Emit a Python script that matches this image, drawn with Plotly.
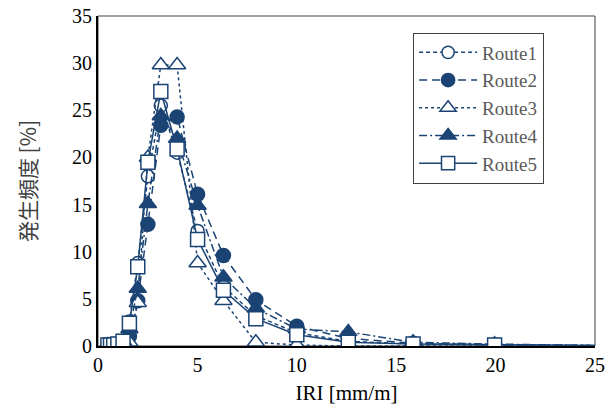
import plotly.graph_objects as go

# IRI bin centres (log-spaced) [mm/m]
iri = [0.5, 0.63, 0.79, 1.0, 1.26, 1.58, 2.0, 2.51, 3.16, 3.98, 5.01, 6.31, 7.94, 10.0, 12.59, 15.85, 19.95, 25.12]

route1 = [0.1, 0.1, 0.1, 0.2, 0.5, 2.6, 8.8, 18.0, 25.5, 20.5, 12.2, 6.3, 3.2, 1.4, 0.5, 0.2, 0.1, 0.05]
route2 = [0.1, 0.1, 0.1, 0.2, 0.3, 1.0, 4.8, 12.9, 23.4, 24.3, 16.1, 9.6, 4.9, 2.1, 0.8, 0.3, 0.1, 0.05]
route3 = [0.0, 0.0, 0.0, 0.1, 0.2, 0.4, 4.6, 20.0, 29.8, 29.8, 8.8, 4.8, 0.4, 0.1, 0.0, 0.0, 0.0, 0.0]
route4 = [0.1, 0.1, 0.1, 0.2, 0.5, 1.8, 6.1, 15.1, 24.4, 22.0, 14.9, 7.3, 4.0, 1.8, 1.5, 0.4, 0.2, 0.05]
route5 = [0.1, 0.1, 0.1, 0.2, 0.5, 2.4, 8.4, 19.5, 27.0, 20.9, 11.3, 5.9, 2.9, 1.2, 0.4, 0.2, 0.1, 0.05]

names = ["Route1", "Route2", "Route3", "Route4", "Route5"]
x_ticks = [0, 5, 10, 15, 20, 25]
y_ticks = [0, 5, 10, 15, 20, 25, 30, 35]

BLUE = "#1B4474"
series = [
    (route1, "circle-open", "4px,3px", 13),
    (route2, "circle", "8px,5px", 14),
    (route3, "triangle-up-open", "dot", 15),
    (route4, "triangle-up", "8px,3px,2px,3px", 15),
    (route5, "square-open", "solid", 14),
]

fig = go.Figure()
for name, (vals, sym, dash, msize) in zip(names, series):
    filled = not sym.endswith("open")
    # last point lies just past the axis end: line only, marker hidden
    sizes = [msize] * (len(iri) - 1) + [0]
    fig.add_trace(go.Scatter(
        x=iri, y=vals, name=name, mode="lines+markers",
        line=dict(color=BLUE, width=1.5, dash=dash),
        marker=dict(symbol=sym.replace("-open", ""), size=sizes,
                    color=BLUE if filled else "white", opacity=1,
                    line=dict(color=BLUE, width=1.5)),
    ))

font_family = "Liberation Serif, Times New Roman, serif"

fig.update_layout(
    width=612, height=414,
    margin=dict(l=98, r=17, t=16, b=68),
    paper_bgcolor="white", plot_bgcolor="white",
    font=dict(family=font_family, size=20, color="black"),
    showlegend=True,
    legend=dict(
        x=0.634, y=0.95, xanchor="left", yanchor="top",
        bordercolor="#404040", borderwidth=1, bgcolor="white",
        font=dict(size=19, color="#595959", family=font_family),
        itemwidth=58,
    ),
    xaxis=dict(
        range=[0, 25], tickvals=x_ticks, ticks="", showgrid=False, zeroline=False,
        showline=True, linecolor="black", linewidth=2, automargin=False,
        ticklabeloverflow="allow",
        title=dict(text="IRI [mm/m]", font=dict(size=21), standoff=10),
        tickfont=dict(size=20),
    ),
    yaxis=dict(
        range=[0, 35], tickvals=y_ticks, ticks="", showgrid=False, zeroline=False,
        showline=True, linecolor="black", linewidth=2, automargin=False,
        ticklabeloverflow="allow",
        title=dict(text="発生頻度 [%]", font=dict(size=21, family="Noto Sans CJK JP, sans-serif", color="#404040"), standoff=30),
        tickfont=dict(size=20),
    ),
    shapes=[dict(type="rect", xref="paper", yref="paper", x0=0, y0=0, x1=1, y1=1,
                 line=dict(color="#404040", width=1), layer="below")],
)

# remove the page's default 8px body margin so the figure fills the window
fig.write_html("out.html", config={"displayModeBar": False},
               post_script="document.body.style.margin='0';")
